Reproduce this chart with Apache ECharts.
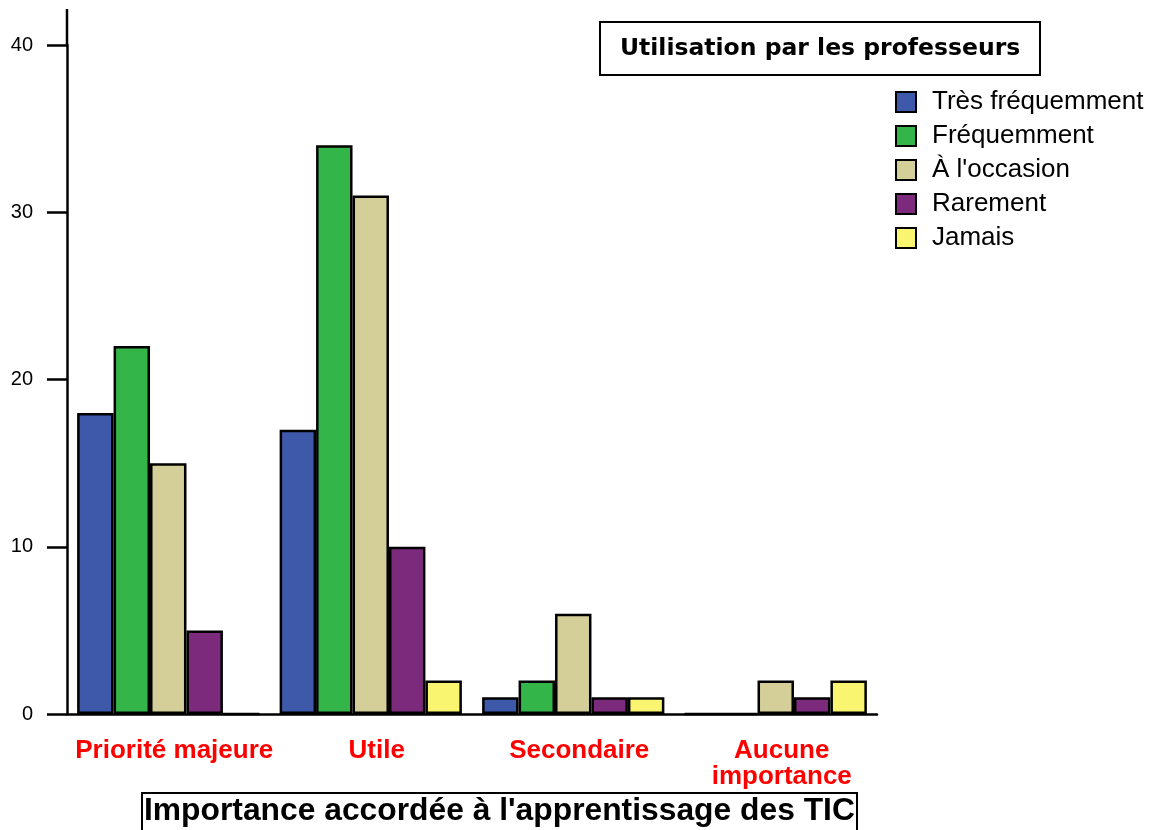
<!DOCTYPE html>
<html>
<head>
<meta charset="utf-8">
<script src="https://cdn.jsdelivr.net/npm/echarts@6/dist/echarts.min.js"></script>
<style>
  html, body { margin: 0; padding: 0; background: #fff; }
  #main { width: 1154px; height: 830px; }
</style>
</head>
<body>
<div id="main"></div>
<script>
// categories on the x axis
const categories = ['Priorité majeure', 'Utile', 'Secondaire', 'Aucune\nimportance'];
// one array per usage level
const tresFrequemment = [18, 17, 1, 0];
const frequemment = [22, 34, 2, 0];
const aLOccasion = [15, 31, 6, 2];
const rarement = [5, 10, 1, 1];
const jamais = [0, 2, 1, 2];
const yTicks = [0, 10, 20, 30, 40];

const seriesDefs = [
  { name: 'Très fréquemment', data: tresFrequemment, color: '#3F59AA' },
  { name: 'Fréquemment', data: frequemment, color: '#33B54A' },
  { name: "À l'occasion", data: aLOccasion, color: '#D4CF99' },
  { name: 'Rarement', data: rarement, color: '#7C2A7C' },
  { name: 'Jamais', data: jamais, color: '#FAF570' },
];

const chart = echarts.init(document.getElementById('main'), null, { renderer: 'canvas' });

chart.setOption({
  animation: false,
  title: [
    {
      text: 'Utilisation par les professeurs',
      left: 600,
      top: 22,
      padding: [15, 20, 14, 20],
      borderColor: '#000',
      borderWidth: 2,
      textStyle: { fontFamily: 'DejaVu Sans', fontWeight: 'bold', fontSize: 23.5, color: '#000' },
    },
    {
      text: "Importance accordée à l'apprentissage des TIC",
      left: 142,
      top: 793,
      padding: [2, 2, 8, 2],
      borderColor: '#000',
      borderWidth: 2,
      textStyle: { fontFamily: 'Liberation Sans', fontWeight: 'bold', fontSize: 31.8, color: '#000' },
    },
  ],
  legend: {
    orient: 'vertical',
    left: 895,
    top: 89,
    padding: 0,
    itemWidth: 20,
    itemHeight: 20,
    itemGap: 8,
    icon: 'rect',
    textStyle: {
      fontFamily: 'Liberation Sans',
      fontSize: 26,
      color: '#000',
      padding: [0, 0, 0, 11],
    },
    itemStyle: { borderColor: '#000', borderWidth: 2 },
  },
  grid: { left: 67, right: 277, top: 45, bottom: 116 },
  xAxis: {
    type: 'category',
    data: categories,
    axisLine: { lineStyle: { color: '#000', width: 2.5 } },
    axisTick: { alignWithLabel: true, length: 17, lineStyle: { color: '#000', width: 2.5 } },
    axisLabel: {
      interval: 0,
      margin: 24,
      color: '#FF0000',
      fontFamily: 'Liberation Sans',
      fontWeight: 'bold',
      fontSize: 26,
      lineHeight: 26,
      padding: [0, 0, 0, 12],
    },
  },
  yAxis: {
    type: 'value',
    min: yTicks[0],
    max: yTicks[yTicks.length - 1],
    interval: 10,
    splitLine: { show: false },
    axisLine: {
      show: true,
      symbol: ['none', 'rect'],
      symbolSize: [2.5, 36],
      symbolOffset: [0, 18],
      lineStyle: { color: '#000', width: 2.5 },
    },
    axisTick: { show: true, length: 20, lineStyle: { color: '#000', width: 2.5 } },
    axisLabel: { margin: 34, color: '#000', fontFamily: 'Liberation Sans', fontSize: 20 },
  },
  series: seriesDefs.map((s) => ({
    name: s.name,
    type: 'bar',
    data: s.data,
    barGap: '0%',
    barCategoryGap: '10%',
    itemStyle: { color: s.color, borderColor: '#000', borderWidth: 2.5 },
  })),
});
</script>
</body>
</html>
